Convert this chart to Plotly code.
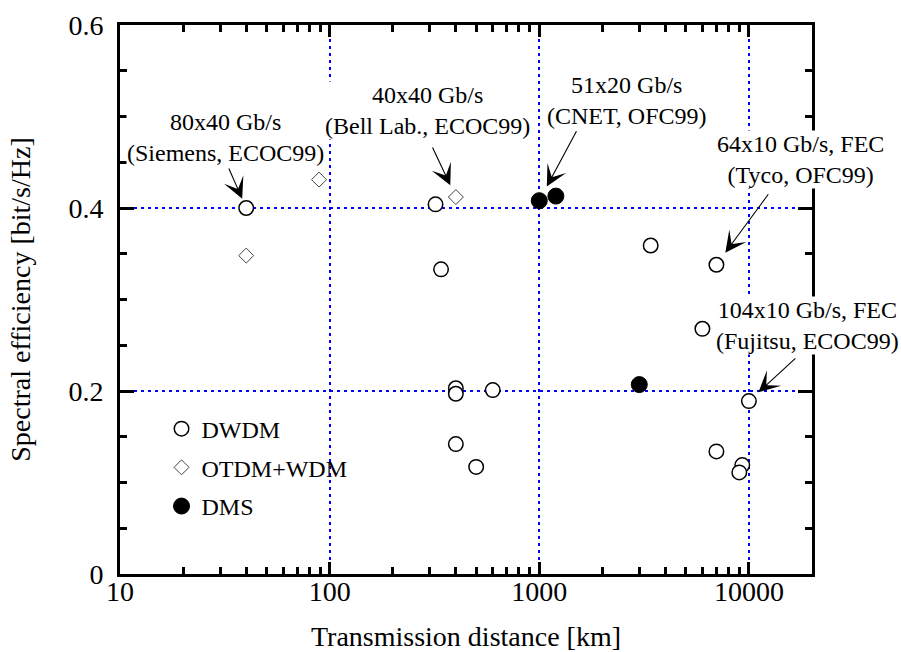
import math
import plotly.graph_objects as go

# ---- data ----
dwdm_x = [40, 320, 340, 400, 400, 400, 500, 600, 3400, 7000, 6000, 10000, 7000, 9300, 9000]
dwdm_y = [0.400, 0.404, 0.333, 0.203, 0.197, 0.142, 0.117, 0.201, 0.359, 0.338, 0.268, 0.189, 0.134, 0.119, 0.111]
otdm_x = [40, 89, 400]
otdm_y = [0.348, 0.431, 0.412]
dms_x = [1000, 1200, 3000]
dms_y = [0.408, 0.413, 0.207]

x_ticks = [10, 100, 1000, 10000]
x_ticklabels = ["10", "100", "1000", "10000"]
y_ticks = [0, 0.2, 0.4, 0.6]
y_ticklabels = ["0", "0.2", "0.4", "0.6"]

# annotations: (x, y, text, xshift, yshift, ax, ay, standoff)
notes = [
    (40, 0.400, "80x40 Gb/s<br>(Siemens, ECOC99)", -21, 71, -18, -41, 10),
    (400, 0.412, "40x40 Gb/s<br>(Bell Lab., ECOC99)", -28, 87, -24, -51, 13),
    (1000, 0.408, "51x20 Gb/s<br>(CNET, OFC99)", 88, 100, 38, -71, 16),
    (7000, 0.338, "64x10 Gb/s, FEC<br>(Tyco, OFC99)", 84, 105, 53, -72, 15),
    (10000, 0.189, "104x10 Gb/s, FEC<br>(Fujitsu, ECOC99)", 59, 76, 48, -44, 13),
]

FONT = "Liberation Serif, Times New Roman, serif"

fig = go.Figure()
fig.add_trace(go.Scatter(
    x=dwdm_x, y=dwdm_y, mode="markers", name="DWDM", legendgroup="a",
    marker=dict(symbol="circle", size=14.5, color="white",
                line=dict(color="black", width=1.5)),
))
fig.add_trace(go.Scatter(
    x=otdm_x, y=otdm_y, mode="markers", name="OTDM+WDM", legendgroup="b",
    marker=dict(symbol="diamond", size=11.5, color="white",
                line=dict(color="#444444", width=1)),
))
fig.add_trace(go.Scatter(
    x=dms_x, y=dms_y, mode="markers", name="DMS", legendgroup="c",
    marker=dict(symbol="circle", size=16, color="black",
                line=dict(color="black", width=1)),
))

for (x, y, t, xs, ys, ax, ay, so) in notes:
    lx = math.log10(x)
    fig.add_annotation(x=lx, y=y, xref="x", yref="y", text="", showarrow=True,
                       ax=ax, ay=ay, standoff=so, arrowhead=3, arrowsize=3.2,
                       arrowwidth=1.1, arrowcolor="black")
for (x, y, t, xs, ys, ax, ay, so) in notes:
    lx = math.log10(x)
    fig.add_annotation(x=lx, y=y, xref="x", yref="y", text=t, showarrow=False,
                       xshift=xs, yshift=ys, font=dict(family=FONT, size=24, color="black"),
                       align="center", bgcolor="white", borderpad=0)

minor_x = [v * d for d in (10, 100, 1000) for v in range(2, 10)] + [20000]

fig.update_xaxes(
    type="log", range=[1, 4.30103], automargin=False,
    tickmode="array", tickvals=x_ticks, ticktext=x_ticklabels,
    ticks="inside", ticklen=12, tickwidth=3, tickcolor="black",
    ticklabelstandoff=-10,
    showline=True, linewidth=3, linecolor="black", mirror="allticks",
    showgrid=True, gridcolor="#0000ff", gridwidth=1.5, griddash="3px,4px",
    zeroline=False,
    tickfont=dict(family=FONT, size=28, color="black"),
    title=dict(text="Transmission distance [km]", font=dict(family=FONT, size=28, color="black"),
               standoff=23),
    minor=dict(tickmode="array", tickvals=minor_x, ticks="inside", ticklen=7,
               tickwidth=2.5, tickcolor="black", showgrid=False),
)
fig.update_yaxes(
    range=[0, 0.6], automargin=False,
    tickmode="array", tickvals=y_ticks, ticktext=y_ticklabels,
    ticks="inside", ticklen=14, tickwidth=3, tickcolor="black",
    ticklabelstandoff=8,
    showline=True, linewidth=3, linecolor="black", mirror="allticks",
    showgrid=True, gridcolor="#0000ff", gridwidth=1.5, griddash="3px,4px",
    zeroline=False,
    tickfont=dict(family=FONT, size=28, color="black"),
    title=dict(text="Spectral efficiency [bit/s/Hz]", font=dict(family=FONT, size=28, color="black"),
               standoff=30),
    minor=dict(dtick=0.05, ticks="inside", ticklen=7, tickwidth=2.5,
               tickcolor="black", showgrid=False),
)

fig.update_layout(
    width=901, height=652,
    margin=dict(l=119.5, r=89.3, t=25, b=78),
    paper_bgcolor="white", plot_bgcolor="white",
    font=dict(family=FONT, color="black"),
    showlegend=True,
    legend=dict(x=0.06, y=0.305, xanchor="left", yanchor="top",
                bgcolor="rgba(0,0,0,0)", borderwidth=0,
                font=dict(family=FONT, size=24, color="black"),
                traceorder="grouped", tracegroupgap=4.5),
)

fig.write_html("out.html")
